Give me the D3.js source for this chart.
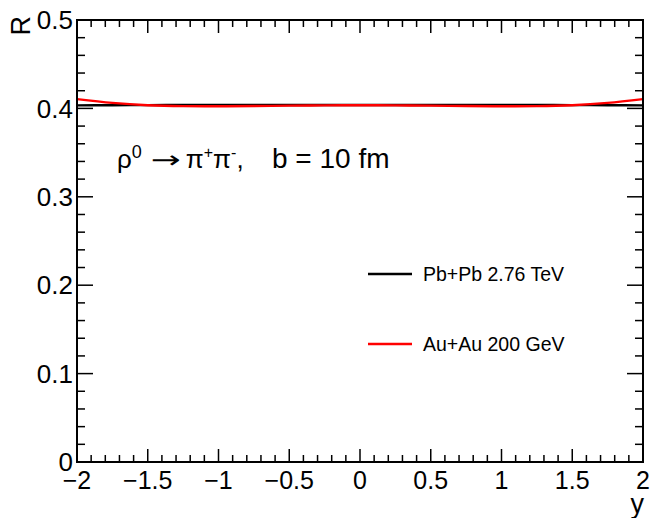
<!DOCTYPE html>
<html>
<head>
<meta charset="utf-8">
<script src="https://cdn.jsdelivr.net/npm/d3@7"></script>
<style>
  body { margin: 0; background: #fff; }
  svg { display: block; font-family: 'Liberation Sans', Arial, sans-serif; }
</style>
</head>
<body>
<svg id="chart" width="650" height="518"></svg>
<script>
// rapidity grid and ratio R for the two systems
const rapidity = [-2, -1.75, -1.5, -1.25, -1, -0.75, -0.5, -0.25, 0, 0.25, 0.5, 0.75, 1, 1.25, 1.5, 1.75, 2];
const pbpb = [0.4034, 0.4036, 0.4037, 0.4038, 0.4038, 0.4038, 0.4038, 0.4038, 0.4038, 0.4038, 0.4038, 0.4038, 0.4038, 0.4038, 0.4037, 0.4036, 0.4034];
const auau = [0.4105, 0.4062, 0.4036, 0.4026, 0.4024, 0.4027, 0.4031, 0.4034, 0.4035, 0.4034, 0.4031, 0.4027, 0.4024, 0.4026, 0.4036, 0.4062, 0.4105];
const xTicks = [-2, -1.5, -1, -0.5, 0, 0.5, 1, 1.5, 2];
const yTicks = [0, 0.1, 0.2, 0.3, 0.4, 0.5];
const legendLabels = ['Pb+Pb 2.76 TeV', 'Au+Au 200 GeV'];

const margin = { top: 20, right: 7, bottom: 56, left: 77 };
const width = 650, height = 518;

const svg = d3.select('#chart');

const x = d3.scaleLinear().domain([-2, 2]).range([margin.left, width - margin.right]);
const y = d3.scaleLinear().domain([0, 0.5]).range([height - margin.bottom, margin.top]);

const x0 = x.range()[0], x1 = x.range()[1];
const y0 = y.range()[0], y1 = y.range()[1];

// curves, clipped to the frame
svg.append('clipPath').attr('id', 'clip')
  .append('rect').attr('x', x0).attr('y', y1).attr('width', x1 - x0).attr('height', y0 - y1);

const line = d3.line().curve(d3.curveMonotoneX);
const series = [
  { vals: pbpb, color: '#000' },
  { vals: auau, color: '#ff0000' },
];
series.forEach((s) => {
  svg.append('path')
    .attr('clip-path', 'url(#clip)')
    .attr('d', line(rapidity.map((r, i) => [x(r), y(s.vals[i])])))
    .attr('fill', 'none')
    .attr('stroke', s.color)
    .attr('stroke-width', 2.4);
});

// ticks on all four sides, pointing inward
const g = svg.append('g').attr('stroke', '#000').attr('stroke-width', 1.5);
const xMinor = d3.range(-20, 21).map((d) => d / 10);
xMinor.forEach((v) => {
  const major = Math.abs(v * 2 - Math.round(v * 2)) < 1e-6;
  const len = major ? 13 : 7;
  g.append('line').attr('x1', x(v)).attr('x2', x(v)).attr('y1', y0).attr('y2', y0 - len);
  g.append('line').attr('x1', x(v)).attr('x2', x(v)).attr('y1', y1).attr('y2', y1 + len);
});
const yMinor = d3.range(0, 26).map((d) => d / 50);
yMinor.forEach((v, i) => {
  const len = i % 5 === 0 ? 16 : 8;
  g.append('line').attr('y1', y(v)).attr('y2', y(v)).attr('x1', x0).attr('x2', x0 + len);
  g.append('line').attr('y1', y(v)).attr('y2', y(v)).attr('x1', x1).attr('x2', x1 - len);
});

// frame
svg.append('rect')
  .attr('x', x0).attr('y', y1).attr('width', x1 - x0).attr('height', y0 - y1)
  .attr('fill', 'none').attr('stroke', '#000').attr('stroke-width', 2);

// tick labels
svg.append('g').selectAll('text').data(xTicks).join('text')
  .attr('x', (d) => x(d))
  .attr('y', y0 + 27)
  .attr('text-anchor', 'middle')
  .attr('font-size', 25)
  .text((d) => (d < 0 ? '\u2212' + Math.abs(d) : String(d)));

svg.append('g').selectAll('text').data(yTicks).join('text')
  .attr('x', x0 - 4)
  .attr('y', (d) => y(d))
  .attr('dy', '0.35em')
  .attr('text-anchor', 'end')
  .attr('font-size', 26)
  .text((d) => (d === 0 ? '0' : d.toFixed(1)));

// axis titles
svg.append('text')
  .attr('x', x1 + 1).attr('y', 513)
  .attr('text-anchor', 'end')
  .attr('font-size', 27)
  .text('y');
svg.append('text')
  .attr('transform', 'translate(30,16) rotate(-90)')
  .attr('text-anchor', 'end')
  .attr('font-size', 27)
  .text('R');

// annotation
const ann = svg.append('text').attr('x', 117).attr('y', 168).attr('font-size', 26);
ann.append('tspan').text('\u03c1');
ann.append('tspan').attr('dy', -10).attr('font-size', 18).text('0');
ann.append('tspan').attr('dx', 9).attr('dy', 10)
  .attr('font-family', 'DejaVu Sans').attr('font-size', 24)
  .attr('textLength', 30).attr('lengthAdjust', 'spacingAndGlyphs')
  .text('\u2192');
ann.append('tspan').attr('dx', 5).text('\u03c0');
ann.append('tspan').attr('dy', -10).attr('font-size', 16).text('+');
ann.append('tspan').attr('dy', 10).text('\u03c0');
ann.append('tspan').attr('dy', -10).attr('font-size', 16).text('-');
ann.append('tspan').attr('dy', 10).text(',');
ann.append('tspan').attr('x', 272).attr('font-size', 28).text('b = 10 fm');

// legend
const leg = svg.append('g');
legendLabels.forEach((lab, i) => {
  const ly = 274 + i * 70;
  leg.append('line')
    .attr('x1', 368).attr('x2', 412).attr('y1', ly).attr('y2', ly)
    .attr('stroke', series[i].color).attr('stroke-width', 2.4);
  leg.append('text')
    .attr('x', 423).attr('y', ly).attr('dy', '0.36em')
    .attr('font-size', 19.5)
    .text(lab);
});
</script>
</body>
</html>
